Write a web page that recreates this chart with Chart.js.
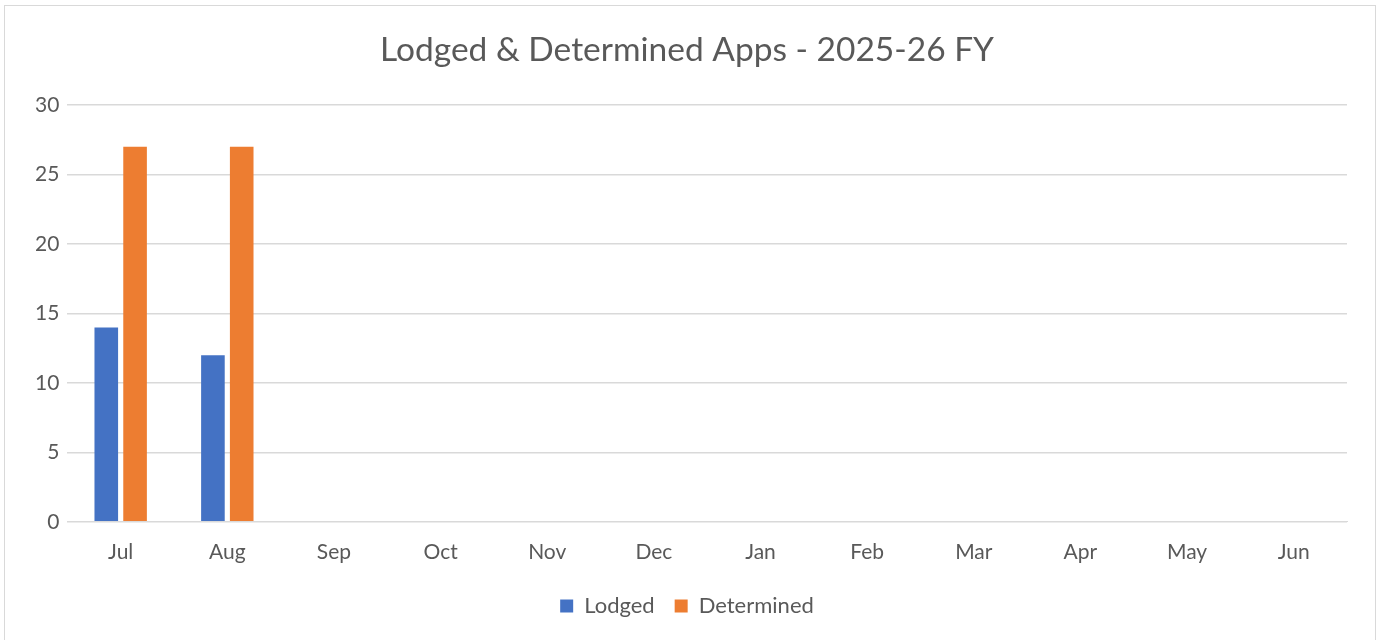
<!DOCTYPE html>
<html>
<head>
<meta charset="utf-8">
<script src="https://cdn.jsdelivr.net/npm/chart.js@4"></script>
<style>
  body { margin: 0; background: #fff; }
  #wrap { position: absolute; left: 4px; top: 5px; width: 1372px; height: 640px; border: 1px solid #d9d9d9; box-sizing: border-box; }
</style>
</head>
<body>
<div id="wrap"><canvas id="myChart"></canvas></div>
<script>
var months = ['Jul', 'Aug', 'Sep', 'Oct', 'Nov', 'Dec', 'Jan', 'Feb', 'Mar', 'Apr', 'May', 'Jun'];
var lodged = [14, 12, null, null, null, null, null, null, null, null, null, null];
var determined = [27, 27, null, null, null, null, null, null, null, null, null, null];
var yTicks = [0, 5, 10, 15, 20, 25, 30];

var txt = '#595959';
var fontName = 'Lato, "Open Sans", sans-serif';

var ctx = document.getElementById('myChart').getContext('2d');
var myChart = new Chart(ctx, {
  type: 'bar',
  data: {
    labels: months,
    datasets: [{
      label: 'Lodged',
      data: lodged,
      backgroundColor: '#4472C4',
      barPercentage: 0.82,
      categoryPercentage: 0.54
    }, {
      label: 'Determined',
      data: determined,
      backgroundColor: '#ED7D31',
      barPercentage: 0.82,
      categoryPercentage: 0.54
    }]
  },
  options: {
    responsive: true,
    maintainAspectRatio: false,
    animation: false,
    layout: { padding: { left: 22, right: 28, top: 8, bottom: 17 } },
    plugins: {
      title: {
        display: true,
        text: 'Lodged & Determined Apps - 2025-26 FY',
        color: txt,
        font: { family: fontName, size: 33.5, weight: 'normal' },
        padding: { top: 16, bottom: 35 }
      },
      legend: {
        position: 'bottom',
        labels: {
          color: txt,
          font: { family: fontName, size: 22 },
          boxWidth: 13,
          boxHeight: 13,
          padding: 20
        }
      },
      tooltip: { enabled: false }
    },
    scales: {
      x: {
        grid: { display: false },
        border: { color: '#d9d9d9' },
        ticks: { color: txt, font: { family: fontName, size: 21 }, padding: 10 }
      },
      y: {
        min: 0,
        max: 30,
        afterBuildTicks: function(axis) {
          axis.ticks = yTicks.map(function(v) { return { value: v }; });
        },
        grid: { color: '#d9d9d9', lineWidth: 1.5, drawTicks: false },
        border: { display: false },
        ticks: { color: txt, font: { family: fontName, size: 21 }, padding: 8 }
      }
    }
  }
});
</script>
</body>
</html>
